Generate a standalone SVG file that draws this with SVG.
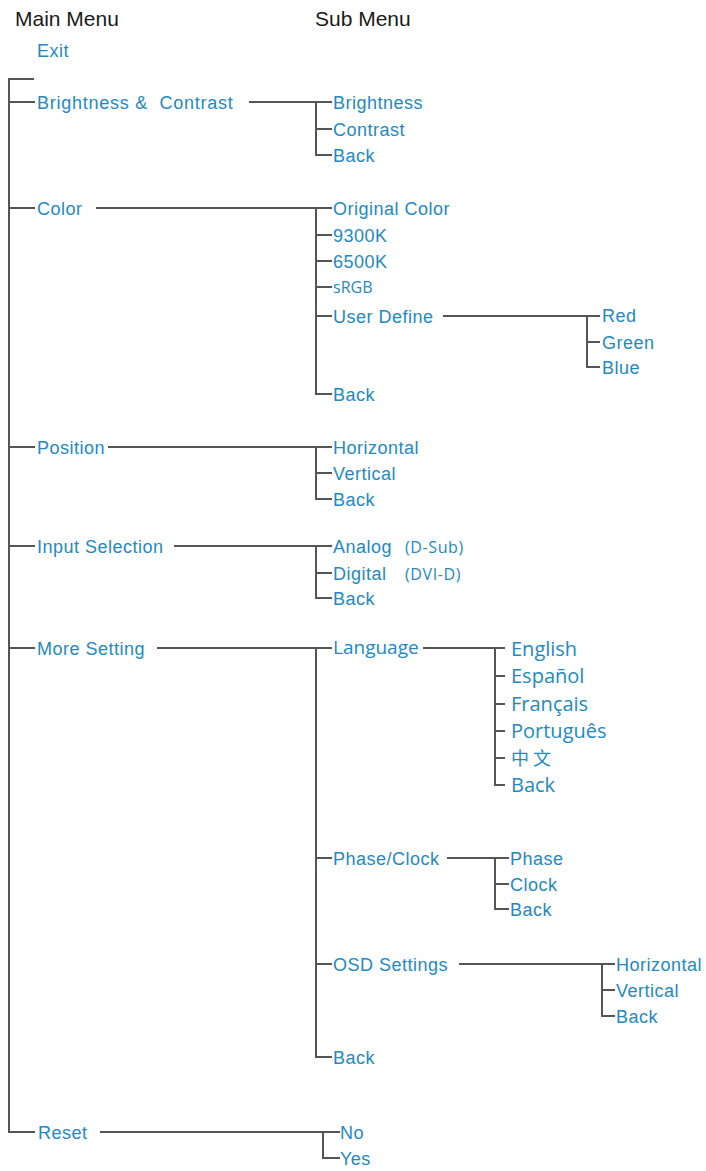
<svg xmlns="http://www.w3.org/2000/svg" width="706" height="1171" viewBox="0 0 706 1171">
<style>
.h{font-family:"Liberation Sans",Arial,sans-serif;font-size:21px;fill:#1a1a1a}
.t{font-family:"Liberation Sans",Arial,sans-serif;font-size:18px;fill:#2389c2;letter-spacing:0.5px;white-space:pre}
.s{font-family:"Open Sans","Noto Sans",sans-serif;font-size:16px;fill:#2389c2;letter-spacing:0.6px}
.o{font-family:"Open Sans","Noto Sans",sans-serif;font-size:20px;fill:#2389c2}
.c{font-family:"Noto Sans CJK SC",sans-serif;font-size:18px;fill:#2389c2}
.l{stroke:#555;stroke-width:2;fill:none}
</style>
<rect width="706" height="1171" fill="#fff"/>
<g id="headers">
<text class="h" x="15" y="26">Main Menu</text>
<text class="h" x="315" y="26">Sub Menu</text>
</g>
<g id="connectors" class="l">
<path d="M34 79H9V1132H35"/>
<path d="M9 102H35M9 208H35M9 447H35M9 546H35M9 648H35"/>
<path d="M249 102H316M316 102V155H332M316 129H332M316 102H332"/>
<path d="M96 208H332M316 208V394H332M316 235H332M316 261H332M316 287H332M316 316H332"/>
<path d="M443 316H600M587 316V367H600M587 342H600"/>
<path d="M108 447H332M316 447V499H332M316 473H332"/>
<path d="M174 546H332M316 546V598H332M316 573H332"/>
<path d="M157 648H332M316 648V1057H332M316 858H332M316 964H332"/>
<path d="M423 648H505M495 648V785H505M495 676H505M495 704H505M495 731H505M495 758H505"/>
<path d="M447 858H509M495 858V909H509M495 884H509"/>
<path d="M459 964H615M602 964V1016H615M602 990H615"/>
<path d="M100 1132H340M323 1132V1158H340"/>
</g>
<g id="exit"><text class="t" x="37" y="57">Exit</text></g>
<g id="brightness-contrast">
<text class="t" x="37" y="109" xml:space="preserve" style="letter-spacing:0.75px">Brightness &amp;  Contrast</text>
<text class="t" x="333" y="109">Brightness</text>
<text class="t" x="333" y="136">Contrast</text>
<text class="t" x="333" y="162">Back</text>
</g>
<g id="color">
<text class="t" x="37" y="215">Color</text>
<text class="t" x="333" y="215">Original Color</text>
<text class="t" x="333" y="242">9300K</text>
<text class="t" x="333" y="268">6500K</text>
<text class="o" x="333" y="293" style="font-size:16px">sRGB</text>
<text class="t" x="333" y="323">User Define</text>
<text class="t" x="333" y="401">Back</text>
</g>
<g id="user-define">
<text class="t" x="602" y="322">Red</text>
<text class="t" x="602" y="349">Green</text>
<text class="t" x="602" y="374">Blue</text>
</g>
<g id="position">
<text class="t" x="37" y="454">Position</text>
<text class="t" x="333" y="454">Horizontal</text>
<text class="t" x="333" y="480">Vertical</text>
<text class="t" x="333" y="506">Back</text>
</g>
<g id="input-selection">
<text class="t" x="37" y="553">Input Selection</text>
<text class="t" x="333" y="553">Analog</text>
<text class="s" x="405" y="553">(D-Sub)</text>
<text class="t" x="333" y="580">Digital</text>
<text class="s" x="405" y="580">(DVI-D)</text>
<text class="t" x="333" y="605">Back</text>
</g>
<g id="more-setting">
<text class="t" x="37" y="655">More Setting</text>
<text class="o" x="333" y="654" style="font-size:19px">Language</text>
<text class="t" x="333" y="865">Phase/Clock</text>
<text class="t" x="333" y="971">OSD Settings</text>
<text class="t" x="333" y="1064">Back</text>
</g>
<g id="language">
<text class="o" x="511" y="656">English</text>
<text class="o" x="511" y="683">Español</text>
<text class="o" x="511" y="711">Français</text>
<text class="o" x="511" y="738">Português</text>
<text class="c" x="511" y="765">中 文</text>
<text class="o" x="511" y="792">Back</text>
</g>
<g id="phase-clock">
<text class="t" x="510" y="865">Phase</text>
<text class="t" x="510" y="891">Clock</text>
<text class="t" x="510" y="916">Back</text>
</g>
<g id="osd-settings">
<text class="t" x="616" y="971">Horizontal</text>
<text class="t" x="616" y="997">Vertical</text>
<text class="t" x="616" y="1023">Back</text>
</g>
<g id="reset">
<text class="t" x="38" y="1139">Reset</text>
<text class="t" x="340" y="1139">No</text>
<text class="t" x="340" y="1165">Yes</text>
</g>
</svg>
